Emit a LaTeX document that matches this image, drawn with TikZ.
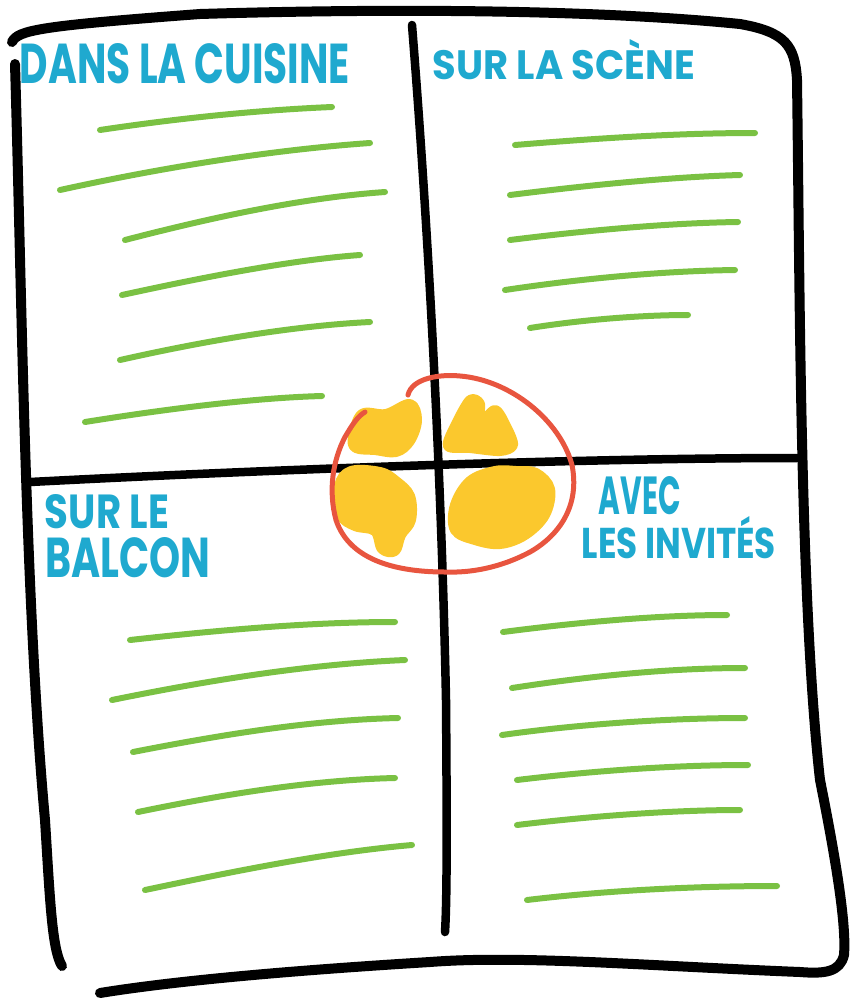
\documentclass[tikz,border=0pt]{standalone}
\usepackage{fontspec}
\usepackage{graphicx}
\newfontfamily\hand{Poppins}
\definecolor{inkblue}{HTML}{1FA9CF}
\definecolor{inkgreen}{HTML}{7AC143}
\definecolor{inkyellow}{HTML}{FBC82D}
\definecolor{inkred}{HTML}{E8553F}
\tikzset{
  frame/.style={black, line width=10pt, line cap=round, line join=round},
  divider/.style={black, line width=8.5pt, line cap=round},
  textline/.style={inkgreen, line width=6pt, line cap=round},
  title/.style={inkblue, inner sep=0pt, font=\hand\bfseries},
  blob/.style={inkyellow, fill=inkyellow, line width=10pt, line join=round},
  ring/.style={inkred, line width=5pt, line cap=round}
}
\begin{document}
\begin{tikzpicture}[x=1pt,y=-1pt]
\useasboundingbox (0,0) rectangle (853,999);
% frame
\draw[frame] (12,42) .. controls (18,30) and (40,26) .. (200,14)
  .. controls (400,8) and (600,10) .. (740,24)
  .. controls (785,32) and (795,45) .. (797,80)
  .. controls (800,300) and (800,600) .. (820,780)
  .. controls (840,880) and (846,930) .. (844,955)
  .. controls (840,972) and (825,974) .. (800,972)
  .. controls (650,966) and (520,955) .. (430,962)
  .. controls (300,970) and (180,980) .. (100,993);
\draw[frame] (15,64) .. controls (22,300) and (25,600) .. (45,820)
  .. controls (50,900) and (52,950) .. (62,966);
% dividers
\draw[divider] (30,482) .. controls (300,468) and (600,458) .. (797,458);
\draw[divider] (412,25) .. controls (430,250) and (442,500) .. (446,700)
  .. controls (447,830) and (447,900) .. (445,932);
% green lines top-left
\draw[textline] (100,130) .. controls (180,118) and (260,110) .. (332,107);
\draw[textline] (60,190) .. controls (160,168) and (270,150) .. (370,143);
\draw[textline] (125,240) .. controls (210,218) and (300,198) .. (385,192);
\draw[textline] (122,295) .. controls (200,278) and (290,260) .. (360,255);
\draw[textline] (120,360) .. controls (200,342) and (290,326) .. (370,322);
\draw[textline] (85,422) .. controls (160,410) and (250,398) .. (322,396);
% top-right
\draw[textline] (515,145) .. controls (600,138) and (680,133) .. (755,133);
\draw[textline] (510,195) .. controls (590,185) and (670,177) .. (740,175);
\draw[textline] (510,240) .. controls (590,230) and (670,223) .. (738,222);
\draw[textline] (505,290) .. controls (585,278) and (665,271) .. (735,270);
\draw[textline] (530,328) .. controls (580,320) and (640,315) .. (688,315);
% bottom-left
\draw[textline] (130,640) .. controls (220,630) and (310,622) .. (395,622);
\draw[textline] (112,700) .. controls (210,680) and (310,664) .. (405,660);
\draw[textline] (133,752) .. controls (220,735) and (310,720) .. (398,718);
\draw[textline] (138,812) .. controls (220,795) and (310,780) .. (395,778);
\draw[textline] (145,890) .. controls (240,870) and (330,852) .. (412,845);
% bottom-right
\draw[textline] (503,632) .. controls (580,622) and (660,615) .. (727,615);
\draw[textline] (512,688) .. controls (590,676) and (670,668) .. (745,668);
\draw[textline] (502,735) .. controls (580,724) and (670,718) .. (745,718);
\draw[textline] (517,780) .. controls (600,770) and (680,765) .. (748,765);
\draw[textline] (517,825) .. controls (600,815) and (680,810) .. (740,810);
\draw[textline] (527,900) .. controls (610,890) and (700,886) .. (777,886);
% titles
\node[title] (t1) at (185,64) {\resizebox{330pt}{40pt}{DANS LA CUISINE}};
\node[title] (t2) at (564,60) {\resizebox{262pt}{40pt}{SUR LA SCÈNE}};
\node[title] (t3) at (107,512) {\resizebox{124pt}{34pt}{SUR LE}};
\node[title] (t4) at (128,558) {\resizebox{165pt}{40pt}{BALCON}};
\node[title] (t5) at (640,496) {\resizebox{82pt}{38pt}{AVEC}};
\node[title] (t6) at (679,538) {\resizebox{194pt}{42pt}{LES INVITÉS}};
% yellow blobs
\filldraw[blob] plot[smooth cycle, tension=0.6] coordinates {(353,437) (362,414) (386,414) (410,404) (417,420) (410,441) (396,452) (375,450) (356,448)};
\filldraw[blob] plot[smooth cycle, tension=0.5] coordinates {(448,446) (456,424) (470,400) (480,404) (479,424) (495,410) (506,426) (513,445) (500,451) (470,448)};
\filldraw[blob] plot[smooth cycle, tension=0.6] coordinates {(339,486) (351,471) (380,472) (396,481) (410,496) (411,520) (401,535) (395,551) (382,549) (375,531) (355,526) (341,515)};
\filldraw[blob] plot[smooth cycle, tension=0.6] coordinates {(455,505) (470,481) (495,471) (516,471) (536,473) (550,489) (545,515) (525,535) (500,544) (475,540) (455,530)};
% red ring
\draw[ring] (408,395) .. controls (412,378) and (440,374) .. (460,376)
  .. controls (510,380) and (560,420) .. (572,465)
  .. controls (580,505) and (560,535) .. (530,552)
  .. controls (500,568) and (470,573) .. (445,572)
  .. controls (400,572) and (350,562) .. (336,520)
  .. controls (328,490) and (333,460) .. (345,437)
  .. controls (352,425) and (358,416) .. (365,412);
\end{tikzpicture}
\end{document}
